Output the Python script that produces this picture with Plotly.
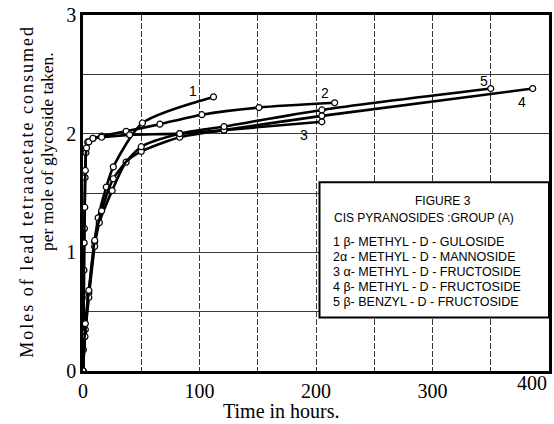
import plotly.graph_objects as go

# Lead tetraacetate consumption (moles per mole of glycoside) against time (hours)
x1 = [0, 2, 5, 10, 13, 20, 26, 51, 112]
y1 = [0, 0.35, 0.66, 1.09, 1.29, 1.55, 1.72, 2.09, 2.31]

x2 = [0, 0.3, 0.8, 1.2, 1.8, 2.5, 4, 8.5, 16, 37, 66, 102, 151, 216]
y2 = [0, 0.18, 0.85, 1.2, 1.63, 1.84, 1.93, 1.96, 1.98, 2.02, 2.08, 2.16, 2.22, 2.26]

x3 = [0, 0.5, 1, 1.5, 2, 3, 5, 8.5, 16, 40, 83, 121, 205]
y3 = [0, 0.32, 1.08, 1.38, 1.69, 1.88, 1.93, 1.96, 1.97, 1.99, 2.0, 2.03, 2.10]

x4 = [0, 1.7, 5, 10, 14, 25, 37, 50, 83, 121, 205, 386]
y4 = [0, 0.29, 0.62, 1.05, 1.25, 1.52, 1.76, 1.85, 1.97, 2.03, 2.15, 2.38]

x5 = [0, 2, 5, 10, 16, 26, 50, 83, 121, 205, 350]
y5 = [0, 0.4, 0.68, 1.1, 1.35, 1.62, 1.89, 2.0, 2.06, 2.20, 2.38]

series = [(x1, y1), (x2, y2), (x3, y3), (x4, y4), (x5, y5)]
curve_ids = ["1", "2", "3", "4", "5"]

x_ticks = [0, 100, 200, 300, 400]
y_ticks = [0, 1, 2, 3]

key_title = "FIGURE 3"
key_subtitle = "CIS PYRANOSIDES :GROUP (A)"
key_lines = [
    "1 β- METHYL - D - GULOSIDE",
    "2α - METHYL - D - MANNOSIDE",
    "3 α- METHYL - D - FRUCTOSIDE",
    "4 β- METHYL - D - FRUCTOSIDE",
    "5 β- BENZYL - D - FRUCTOSIDE",
]

SERIF = "Liberation Serif"
SANS = "Liberation Sans"

fig = go.Figure()
for (xs, ys), cid in zip(series, curve_ids):
    fig.add_trace(go.Scatter(
        x=xs, y=ys, mode="lines+markers", name=cid,
        line=dict(color="black", width=2.6, shape="spline", smoothing=0.7),
        marker=dict(symbol="circle", size=6, color="white",
                    line=dict(color="black", width=1.2)),
        showlegend=False,
    ))

# curve numbers next to the line ends
label_pos = {"1": (94, 2.36), "2": (208, 2.34), "3": (190, 1.99),
             "4": (377, 2.27), "5": (344, 2.44)}
for cid in curve_ids:
    lx, ly = label_pos[cid]
    fig.add_annotation(x=lx, y=ly, xref="x", yref="y", text=cid,
                       showarrow=False, font=dict(family=SANS, size=14, color="black"))

# boxed key in the lower right
fig.add_shape(type="rect", xref="x", yref="y", x0=203, x1=400, y0=0.45, y1=1.59,
              line=dict(color="black", width=2), fillcolor="white", layer="above")
fig.add_annotation(x=309, y=1.43, xref="x", yref="y", text=key_title, showarrow=False,
                   font=dict(family=SANS, size=12, color="black"))
fig.add_annotation(x=293, y=1.29, xref="x", yref="y", text=key_subtitle, showarrow=False,
                   font=dict(family=SANS, size=12, color="black"))
key_y = [1.087, 0.96, 0.834, 0.708, 0.581]
for txt, ky in zip(key_lines, key_y):
    fig.add_annotation(x=213, y=ky, xref="x", yref="y", text=txt, showarrow=False,
                       xanchor="left", font=dict(family=SANS, size=12.5, color="black"))

# last x tick label sits inside the frame edge
fig.add_annotation(x=x_ticks[-1], y=0, xref="x", yref="paper", text=str(x_ticks[-1]),
                   showarrow=False, xshift=-17, yshift=-25,
                   font=dict(family=SERIF, size=20, color="black"))

# axis titles
fig.add_annotation(x=0.427, y=-0.112, xref="paper", yref="paper",
                   xanchor="center", yanchor="middle",
                   text="Time in hours.", showarrow=False,
                   font=dict(family=SERIF, size=20, color="black"))
fig.add_annotation(x=0, y=1.51, xref="paper", yref="y", xanchor="center",
                   yanchor="middle",
                   text='<span style="letter-spacing:2px">Moles of lead tetraacetate consumed</span>',
                   textangle=-90, showarrow=False, xshift=-56,
                   font=dict(family=SERIF, size=18, color="black"))
fig.add_annotation(x=0, y=1.845, xref="paper", yref="y", xanchor="center",
                   yanchor="middle", text="per mole of glycoside taken.",
                   textangle=-90, showarrow=False, xshift=-36,
                   font=dict(family=SERIF, size=17.5, color="black"))

grid_col = "#3a3a3a"
fig.update_xaxes(
    range=[0, 400], tickvals=x_ticks[:-1],
    ticks="", showline=True, mirror=True, linecolor="black", linewidth=2.6,
    showgrid=True, gridcolor=grid_col, gridwidth=1, griddash="6px,2px",
    minor=dict(tickvals=[50, 150, 250, 350], showgrid=True, gridcolor=grid_col,
               gridwidth=1, griddash="6px,2px"),
    zeroline=False, tickfont=dict(family=SERIF, size=20, color="black"),
)
fig.update_yaxes(
    range=[0, 3], tickvals=y_ticks, ticks="", showline=True, mirror=True,
    linecolor="black", linewidth=2.6, showgrid=True, gridcolor=grid_col, gridwidth=1,
    minor=dict(tickvals=[0.5, 1.5, 2.5], showgrid=True, gridcolor=grid_col, gridwidth=1),
    zeroline=False, tickfont=dict(family=SERIF, size=20, color="black"),
)
fig.update_layout(
    width=554, height=424, margin=dict(l=83, r=2, t=15, b=53),
    plot_bgcolor="white", paper_bgcolor="white",
)
fig.write_html("out.html")
